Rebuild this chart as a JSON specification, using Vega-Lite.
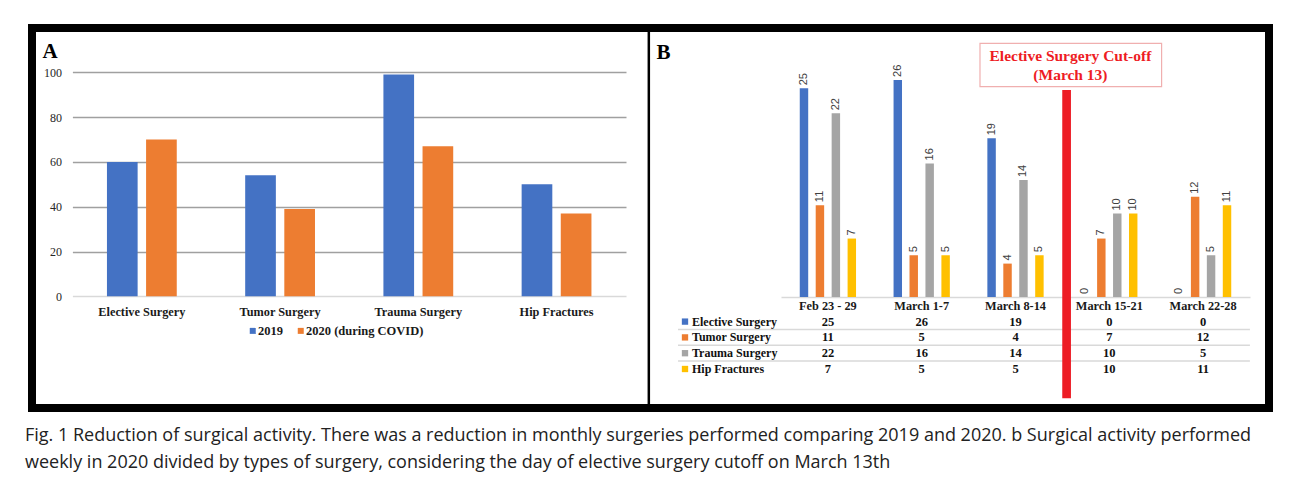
{
  "$schema": "https://vega.github.io/schema/vega-lite/v6.json",
  "width": 1237,
  "height": 380,
  "autosize": {"type": "none"},
  "padding": {"left": 32, "top": 28, "right": 23, "bottom": 77},
  "background": "white",
  "config": {
    "view": {"stroke": "black", "strokeWidth": 8},
    "font": "Liberation Serif",
    "axis": {"labelFont": "Liberation Serif", "titleFont": "Liberation Serif"},
    "legend": {"labelFont": "Liberation Serif"}
  },
  "title": {
    "text": ["Fig. 1 Reduction of surgical activity. There was a reduction in monthly surgeries performed comparing 2019 and 2020. b Surgical activity performed", "weekly in 2020 divided by types of surgery, considering the day of elective surgery cutoff on March 13th"],
    "orient": "bottom",
    "anchor": "start",
    "frame": "group",
    "dx": -7,
    "offset": 32,
    "baseline": "alphabetic",
    "font": "Open Sans",
    "fontSize": 18,
    "fontWeight": "normal",
    "color": "#222222",
    "lineHeight": 26.7
  },
  "datasets": {
    "a": [
      {"category": "Elective Surgery", "period": "2019", "count": 60},
      {"category": "Elective Surgery", "period": "2020 (during COVID)", "count": 70},
      {"category": "Tumor Surgery", "period": "2019", "count": 54},
      {"category": "Tumor Surgery", "period": "2020 (during COVID)", "count": 39},
      {"category": "Trauma Surgery", "period": "2019", "count": 99},
      {"category": "Trauma Surgery", "period": "2020 (during COVID)", "count": 67},
      {"category": "Hip Fractures", "period": "2019", "count": 50},
      {"category": "Hip Fractures", "period": "2020 (during COVID)", "count": 37}
    ],
    "b": [
      {"week": "Feb 23 - 29", "series": "Elective Surgery", "count": 25},
      {"week": "Feb 23 - 29", "series": "Tumor Surgery", "count": 11},
      {"week": "Feb 23 - 29", "series": "Trauma Surgery", "count": 22},
      {"week": "Feb 23 - 29", "series": "Hip Fractures", "count": 7},
      {"week": "March 1-7", "series": "Elective Surgery", "count": 26},
      {"week": "March 1-7", "series": "Tumor Surgery", "count": 5},
      {"week": "March 1-7", "series": "Trauma Surgery", "count": 16},
      {"week": "March 1-7", "series": "Hip Fractures", "count": 5},
      {"week": "March 8-14", "series": "Elective Surgery", "count": 19},
      {"week": "March 8-14", "series": "Tumor Surgery", "count": 4},
      {"week": "March 8-14", "series": "Trauma Surgery", "count": 14},
      {"week": "March 8-14", "series": "Hip Fractures", "count": 5},
      {"week": "March 15-21", "series": "Elective Surgery", "count": 0},
      {"week": "March 15-21", "series": "Tumor Surgery", "count": 7},
      {"week": "March 15-21", "series": "Trauma Surgery", "count": 10},
      {"week": "March 15-21", "series": "Hip Fractures", "count": 10},
      {"week": "March 22-28", "series": "Elective Surgery", "count": 0},
      {"week": "March 22-28", "series": "Tumor Surgery", "count": 12},
      {"week": "March 22-28", "series": "Trauma Surgery", "count": 5},
      {"week": "March 22-28", "series": "Hip Fractures", "count": 11}
    ]
  },
  "layer": [
    {
      "layer": [
        {
          "data": {"name": "a"},
          "mark": {"type": "bar"},
          "encoding": {
            "x": {
              "field": "category", "type": "nominal",
              "scale": {"domain": ["Elective Surgery", "Tumor Surgery", "Trauma Surgery", "Hip Fractures"], "range": [40.4, 594], "paddingInner": 0.495, "paddingOuter": 0.25},
              "axis": {"orient": "bottom", "offset": -111.7, "title": null, "domain": false, "ticks": false, "grid": false, "labelPadding": 9, "labelFontWeight": "bold", "labelFontSize": 12.3, "labelColor": "#1a1a1a", "labelAngle": 0}
            },
            "xOffset": {"field": "period", "type": "nominal", "scale": {"domain": ["2019", "2020 (during COVID)"], "paddingInner": 0.216}},
            "y": {
              "field": "count", "type": "quantitative",
              "scale": {"domain": [0, 100], "range": [268.3, 44.3], "nice": false},
              "axis": {"orient": "left", "offset": -40.4, "values": [0, 20, 40, 60, 80, 100], "domain": false, "ticks": false, "labelPadding": 11, "labelFontSize": 12, "labelColor": "#262626", "grid": true, "gridColor": {"condition": {"test": "datum.value === 0", "value": "#d9d9d9"}, "value": "#a0a0a0"}, "gridWidth": 1.3, "title": "A", "titleAngle": 0, "titleX": -30.4, "titleY": 29, "titleAlign": "left", "titleBaseline": "alphabetic", "titleFontSize": 21, "titleFontWeight": "bold", "titleColor": "black"}
            },
            "color": {
              "field": "period", "type": "nominal",
              "scale": {"domain": ["2019", "2020 (during COVID)"], "range": ["#4472C4", "#ED7D31"]},
              "legend": {"orient": "none", "legendX": 214.5, "legendY": 296.5, "direction": "horizontal", "title": null, "symbolType": "square", "symbolSize": 36, "symbolStrokeWidth": 0, "labelFontWeight": "bold", "labelFontSize": 12.5, "labelColor": "#1a1a1a", "labelOffset": -1, "columnPadding": 11, "padding": 0}
            }
          }
        },
        {
          "data": {"values": [{}]},
          "mark": {"type": "rule", "color": "black", "strokeWidth": 2.5},
          "encoding": {"x": {"datum": "Hip Fractures", "bandPosition": 1.822}}
        }
      ]
    },
    {
      "layer": [
        {
          "data": {"name": "b"},
          "layer": [
            {
              "mark": {"type": "text", "font": "Liberation Serif", "fontWeight": "bold", "fontSize": 12.5, "color": "#111111", "baseline": "middle"},
              "encoding": {
                "x": {
                  "field": "week", "type": "nominal",
                  "axis": {"orient": "bottom", "offset": -111, "domain": true, "domainColor": "#d9d9d9", "domainWidth": 1.3, "ticks": false, "grid": false, "labelPadding": 2.6, "labelFontWeight": "bold", "labelFontSize": 12.3, "labelColor": "#1a1a1a", "labelAngle": 0, "title": "B", "titleX": 624, "titleY": -239, "titleAlign": "left", "titleBaseline": "alphabetic", "titleFontSize": 21, "titleFontWeight": "bold", "titleColor": "black"}
                },
                "y": {"field": "series", "type": "nominal", "scale": {"domain": ["Elective Surgery", "Tumor Surgery", "Trauma Surgery", "Hip Fractures"], "range": [285.7, 348.9], "paddingInner": 0, "paddingOuter": 0}, "axis": null},
                "text": {"field": "count", "type": "quantitative"}
              }
            },
            {
              "transform": [{"filter": "datum.week === 'Feb 23 - 29' && datum.series !== 'Elective Surgery'"}],
              "mark": {"type": "rule", "color": "#d9d9d9", "strokeWidth": 1.5},
              "encoding": {
                "y": {"field": "series", "type": "nominal", "bandPosition": 0, "axis": null},
                "x": {"datum": "Feb 23 - 29", "bandPosition": -2.163},
                "x2": {"datum": "March 22-28", "bandPosition": 1.332}
              }
            }
          ]
        },
        {
          "layer": [
            {
              "data": {"name": "b"},
              "mark": {"type": "bar"},
              "encoding": {
                "x": {
                  "field": "week", "type": "nominal",
                  "scale": {"domain": ["Feb 23 - 29", "March 1-7", "March 8-14", "March 15-21", "March 22-28"], "range": [749, 1218], "paddingInner": 0.4, "paddingOuter": 0.2},
                  "axis": {"orient": "bottom", "offset": -111, "domain": true, "domainColor": "#d9d9d9", "domainWidth": 1.3, "ticks": false, "grid": false, "labelPadding": 2.6, "labelFontWeight": "bold", "labelFontSize": 12.3, "labelColor": "#1a1a1a", "labelAngle": 0, "title": "B", "titleX": 624, "titleY": -239, "titleAlign": "left", "titleBaseline": "alphabetic", "titleFontSize": 21, "titleFontWeight": "bold", "titleColor": "black"}
                },
                "xOffset": {"field": "series", "type": "nominal", "scale": {"domain": ["Elective Surgery", "Tumor Surgery", "Trauma Surgery", "Hip Fractures"], "paddingInner": 0.47}},
                "y": {"field": "count", "type": "quantitative", "scale": {"domain": [0, 30], "range": [269, 18.5], "nice": false}, "axis": null},
                "color": {
                  "field": "series", "type": "nominal",
                  "scale": {"domain": ["Elective Surgery", "Tumor Surgery", "Trauma Surgery", "Hip Fractures"], "range": ["#4472C4", "#ED7D31", "#A5A5A5", "#FFC000"]},
                  "legend": {"orient": "none", "legendX": 647, "legendY": 287.6, "direction": "vertical", "title": null, "symbolType": "square", "symbolSize": 40, "symbolStrokeWidth": 0, "labelFontWeight": "bold", "labelFontSize": 12, "labelColor": "#111111", "labelOffset": 1, "rowPadding": 3.8, "padding": 0}
                }
              }
            },
            {
              "data": {"name": "b"},
              "mark": {"type": "text", "angle": 270, "align": "left", "baseline": "middle", "dx": 3, "font": "Liberation Sans", "fontSize": 11, "color": "#404040"},
              "encoding": {
                "x": {"field": "week", "type": "nominal"},
                "xOffset": {"field": "series", "type": "nominal"},
                "y": {"field": "count", "type": "quantitative"},
                "text": {"field": "count", "type": "quantitative"}
              }
            },
            {
              "data": {"values": [{}]},
              "mark": {"type": "rule", "color": "#ED1C24", "strokeWidth": 8.7},
              "encoding": {
                "x": {"datum": "March 8-14", "bandPosition": 1.408},
                "y": {"datum": 24.8},
                "y2": {"datum": -12.13}
              }
            },
            {
              "data": {"values": [{}]},
              "mark": {"type": "rect", "fill": "white", "stroke": "#F0AFAF", "strokeWidth": 1.2},
              "encoding": {
                "x": {"datum": "March 8-14", "bandPosition": -0.131},
                "x2": {"datum": "March 8-14", "bandPosition": 3.096},
                "y": {"datum": 30.38},
                "y2": {"datum": 25.19}
              }
            },
            {
              "data": {"values": [{}]},
              "mark": {"type": "text", "text": ["Elective Surgery Cut-off", "(March 13)"], "font": "Liberation Serif", "fontWeight": "bold", "fontSize": 15.5, "color": "#EE1C24", "align": "center", "baseline": "alphabetic", "lineHeight": 19.3},
              "encoding": {
                "x": {"datum": "March 8-14", "bandPosition": 1.476},
                "y": {"datum": 28.3}
              }
            }
          ]
        }
      ],
      "resolve": {"scale": {"y": "independent"}, "axis": {"y": "independent"}}
    }
  ],
  "resolve": {
    "scale": {"x": "independent", "y": "independent", "color": "independent", "xOffset": "independent"},
    "axis": {"x": "independent", "y": "independent"},
    "legend": {"color": "independent"}
  }
}
